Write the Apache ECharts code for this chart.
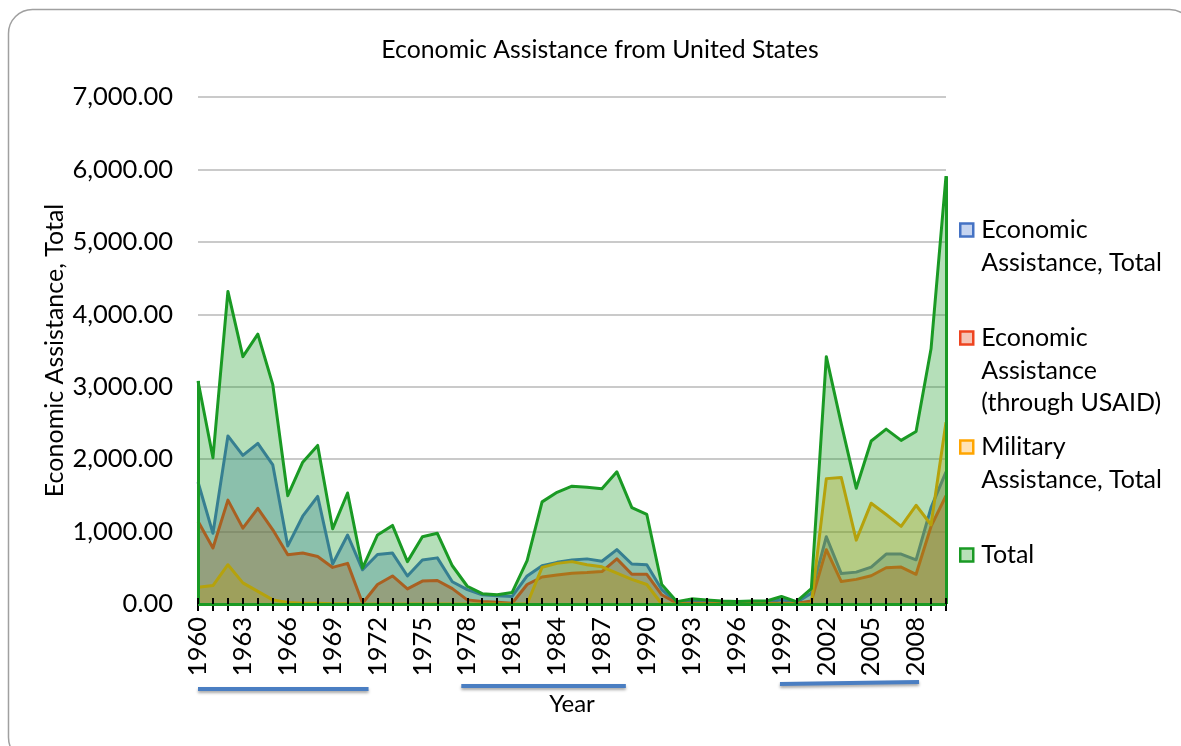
<!DOCTYPE html>
<html>
<head>
<meta charset="utf-8">
<script src="https://cdn.jsdelivr.net/npm/echarts@6/dist/echarts.min.js"></script>
<style>
  html, body { margin: 0; padding: 0; background: #fff; }
  #chart { width: 1181px; height: 746px; }
</style>
</head>
<body>
<div id="chart"></div>
<script>
// Fiscal years on the category axis
const years = [
  '1960','1961','1962','1963','1964','1965','1966','1967','1968','1969',
  '1970','1971','1972','1973','1974','1975','1976','1977','1978','1979',
  '1980','1981','1982','1983','1984','1985','1986','1987','1988','1989',
  '1990','1991','1992','1993','1994','1995','1996','1997','1998','1999',
  '2000','2001','2002','2003','2004','2005','2006','2007','2008','2009',
  '2010'
];

// Economic Assistance, Total
const economicTotal = [
  1684, 976, 2321, 2052, 2217, 1920, 802, 1212, 1486, 552,
  953, 472, 684, 703, 387, 608, 637, 307, 198, 127,
  113, 104, 387, 528, 575, 608, 623, 590, 750, 552,
  542, 200, 20, 40, 30, 25, 20, 25, 25, 60,
  20, 150, 929, 420, 440, 510, 690, 690, 610, 1330,
  1825
];

// Economic Assistance (through USAID)
const economicUsaid = [
  1142, 774, 1434, 1047, 1321, 1024, 679, 703, 656, 505,
  561, 10, 269, 387, 208, 316, 325, 212, 57, 33,
  24, 10, 269, 373, 401, 425, 434, 448, 623, 410,
  410, 127, 10, 10, 10, 10, 10, 10, 10, 10,
  10, 40, 750, 310, 340, 390, 500, 510, 410, 1071,
  1495
];

// Military Assistance, Total
const militaryTotal = [
  231, 255, 542, 292, 175, 57, 20, 10, 10, 5,
  5, 0, 0, 0, 0, 0, 0, 0, 0, 0,
  0, 0, 0, 505, 561, 585, 542, 514, 425, 340,
  269, 0, 0, 0, 0, 0, 0, 0, 0, 0,
  0, 0, 1731, 1745, 882, 1392, 1236, 1071, 1363, 1094,
  2509
];

// Total
const assistanceTotal = [
  3080, 2020, 4316, 3415, 3726, 3028, 1495, 1958, 2189, 1038,
  1533, 495, 953, 1085, 585, 929, 976, 528, 245, 142,
  127, 160, 599, 1410, 1542, 1627, 1613, 1590, 1825, 1330,
  1236, 269, 33, 71, 57, 42, 33, 42, 42, 104,
  33, 212, 3415, 2486, 1599, 2250, 2415, 2259, 2382, 3524,
  5906
];

const seriesNames = [
  'Economic Assistance, Total',
  'Economic Assistance (through USAID)',
  'Military Assistance, Total',
  'Total'
];
const legendLines = [
  ['Economic', 'Assistance, Total'],
  ['Economic', 'Assistance', '(through USAID)'],
  ['Military', 'Assistance, Total'],
  ['Total']
];
const seriesData = [economicTotal, economicUsaid, militaryTotal, assistanceTotal];

// Year ranges underlined beneath the axis labels
const highlightSpans = [[1960, 1971.4], [1977.6, 1988.6], [1998.9, 2008.2]];

const FONT = 'Lato, "Open Sans", sans-serif';
const lineColors = ['#4472C4', '#EE4420', '#FFA500', '#1A9A24'];
const iconFills = ['#C5D4F0', '#F5C4B6', '#FFE2B4', '#B8E0B8'];
const areaOpacity = [0.33, 0.33, 0.3, 0.32];

const chart = echarts.init(document.getElementById('chart'));

// Legend: the icon sits beside the first line of each wrapped label.
// Legend text is centred on its icon, so blank lines are prepended to
// lift the first real line level with the icon.
const legendCenters = [230, 338, 447, 555];
const LH = 32.5;

const series = seriesNames.map((name, i) => {
  const s = {
    name,
    type: 'line',
    data: seriesData[i],
    symbol: 'none',
    lineStyle: { color: lineColors[i], width: 3, join: 'round' },
    itemStyle: { color: lineColors[i] },
    areaStyle: { color: lineColors[i], opacity: areaOpacity[i] },
    emphasis: { disabled: true },
    silent: true,
    z: 2 + i
  };
  if (i === 3) {
    const last = years.length - 1;
    s.markLine = {
      silent: true,
      symbol: ['none', 'none'],
      label: { show: false },
      lineStyle: { color: lineColors[i], width: 3, type: 'solid' },
      emphasis: { disabled: true },
      data: [
        [{ coord: [years[0], 0] }, { coord: [years[0], assistanceTotal[0]] }],
        [{ coord: [years[last], 0] }, { coord: [years[last], assistanceTotal[last]] }],
        [{ coord: [years[0], 0] }, { coord: [years[last], 0] }]
      ]
    };
  }
  return s;
});

const legends = seriesNames.map((name, i) => {
  const lines = legendLines[i];
  const n = lines.length;
  const text = new Array(n - 1).fill('').concat(lines).join('\n');
  return {
    data: [{
      name,
      itemStyle: { color: iconFills[i], borderColor: lineColors[i], borderWidth: 2.5 }
    }],
    left: 959,
    top: legendCenters[i] - (2 * n - 1) * LH / 2,
    padding: 0,
    orient: 'vertical',
    icon: 'rect',
    itemWidth: 13,
    itemHeight: 13,
    selectedMode: false,
    formatter: () => text,
    textStyle: {
      fontFamily: FONT, fontSize: 25, lineHeight: LH, color: '#000',
      padding: [0, 0, 0, 3]
    }
  };
});

const option = {
  animation: false,
  backgroundColor: '#fff',
  title: {
    text: 'Economic Assistance from United States',
    left: 595,
    textAlign: 'center',
    top: 33,
    textStyle: { fontFamily: FONT, fontSize: 24.8, fontWeight: 'normal', color: '#000' }
  },
  legend: legends,
  grid: { left: 198, right: 235, top: 97, bottom: 142, containLabel: false },
  xAxis: [{
    type: 'category',
    data: years,
    boundaryGap: false,
    name: 'Year',
    nameLocation: 'middle',
    nameGap: 88,
    nameMoveOverlap: false,
    nameTextStyle: { fontFamily: FONT, fontSize: 24, color: '#000' },
    axisLine: { lineStyle: { color: '#000', width: 2 } },
    axisTick: { show: true, interval: 0, length: 7, lineStyle: { color: '#000', width: 2 } },
    axisLabel: { interval: 2, rotate: 90, margin: 13, fontFamily: FONT, fontSize: 25.5, color: '#000' },
    splitLine: { show: false }
  }, {
    type: 'category',
    data: years,
    boundaryGap: false,
    position: 'bottom',
    z: 10,
    axisLine: { show: false },
    axisTick: { show: true, inside: true, interval: 0, length: 6, lineStyle: { color: '#000', width: 2 } },
    axisLabel: { show: false },
    splitLine: { show: false }
  }],
  yAxis: {
    type: 'value',
    min: 0,
    max: 7000,
    interval: 1000,
    name: 'Economic Assistance, Total',
    nameLocation: 'middle',
    nameGap: 131,
    nameMoveOverlap: false,
    nameTextStyle: { fontFamily: FONT, fontSize: 25, color: '#000' },
    axisLine: { show: false },
    axisTick: { show: false },
    axisLabel: {
      margin: 25,
      fontFamily: FONT,
      fontSize: 25.5,
      color: '#000',
      formatter: v => v.toLocaleString('en-US', { minimumFractionDigits: 2, maximumFractionDigits: 2 })
    },
    splitLine: { lineStyle: { color: '#B8B8B8', width: 1.5 } }
  },
  series
};

chart.setOption(option);

// Underline strokes beneath the year labels and the rounded chart frame
function yearToX(y) {
  const x0 = chart.convertToPixel({ xAxisIndex: 0 }, years[0]);
  const x1 = chart.convertToPixel({ xAxisIndex: 0 }, years[years.length - 1]);
  const y0 = Number(years[0]);
  const y1 = Number(years[years.length - 1]);
  return x0 + (y - y0) / (y1 - y0) * (x1 - x0);
}
const underlineY = [689, 686, 684];
const underlines = highlightSpans.map((span, i) => ({
  type: 'line',
  shape: { x1: yearToX(span[0]), y1: underlineY[i], x2: yearToX(span[1]), y2: underlineY[i] - (i === 2 ? 2 : 0) },
  style: {
    stroke: '#4A7EC2', lineWidth: 4,
    shadowColor: 'rgba(0,0,0,0.35)', shadowBlur: 3, shadowOffsetY: 2
  },
  silent: true
}));

chart.setOption({
  graphic: [
    {
      type: 'rect',
      shape: { x: 8.5, y: 9.5, width: 1185, height: 752, r: 24 },
      style: { fill: 'none', stroke: '#A0A0A0', lineWidth: 1.5 },
      silent: true,
      z: 100
    }
  ].concat(underlines)
});
</script>
</body>
</html>
